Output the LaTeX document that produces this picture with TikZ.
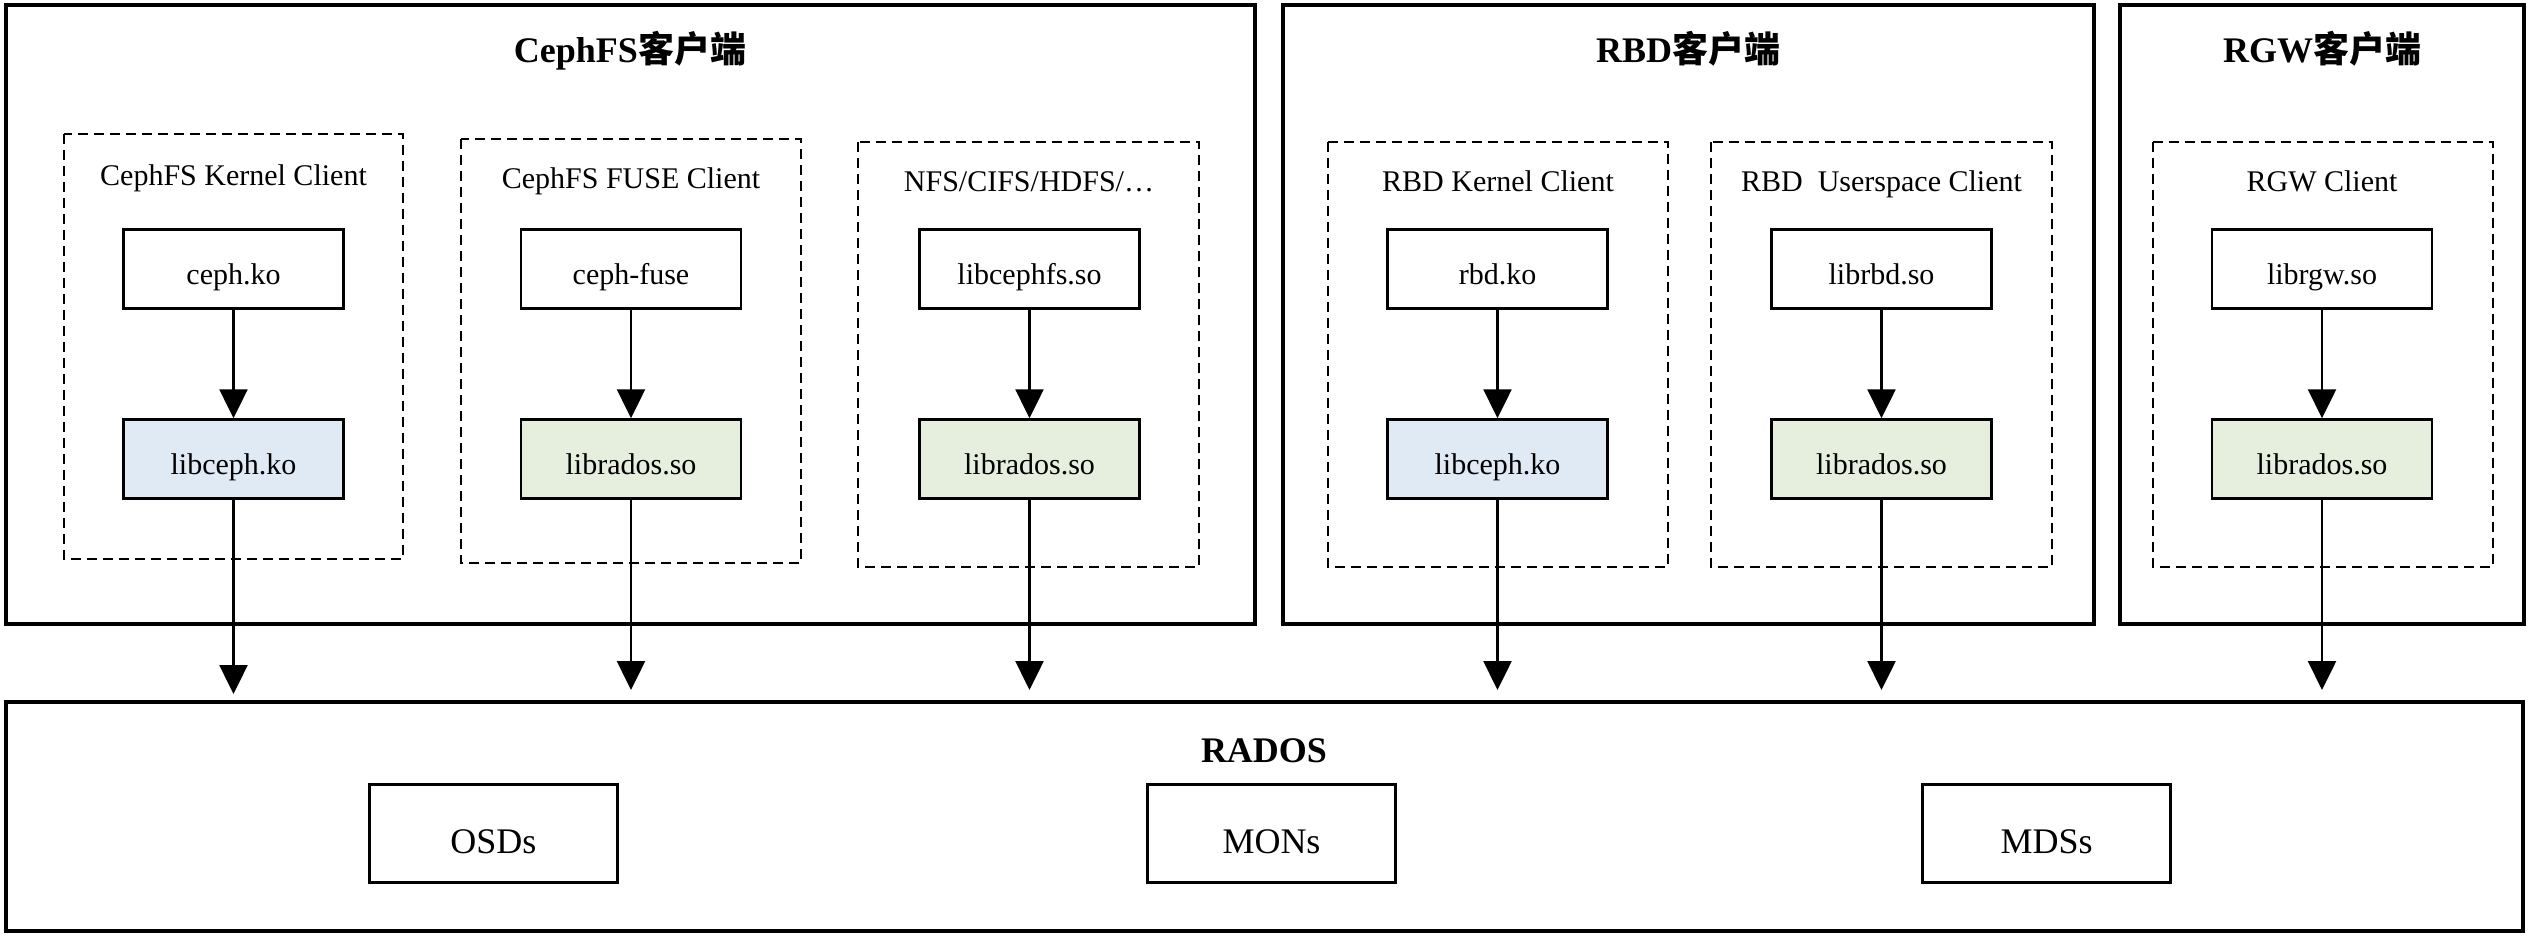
\documentclass[tikz,border=0pt]{standalone}
\usepackage{fontspec}
\setmainfont{Liberation Serif}
\newfontfamily\cjk{Noto Sans CJK SC}
\usetikzlibrary{arrows.meta}
\definecolor{kblue}{HTML}{E0EAF5}
\definecolor{kgreen}{HTML}{E6EFDD}
\begin{document}
\begin{tikzpicture}[x=1pt,y=-1pt,
  outerbox/.style={draw,line width=3.5pt},
  dashbox/.style={draw,dashed,line width=2.5pt,dash pattern=on 10pt off 6pt},
  libbox/.style={draw,line width=2.5pt,minimum width=220pt,minimum height=79pt,inner sep=0pt,text height=37pt,text depth=6pt,font=\fontsize{30}{36}\selectfont},
  radbox/.style={draw,line width=3pt,minimum width=248pt,minimum height=98pt,inner sep=0pt,text height=46pt,text depth=6pt,font=\fontsize{36}{42}\selectfont},
  ttl/.style={font=\fontsize{36}{42}\selectfont\bfseries,inner sep=0pt,anchor=base},
  sttl/.style={font=\fontsize{30}{36}\selectfont,inner sep=0pt,anchor=base},
  arr/.style={line width=2.5pt,-{Triangle[length=29pt,width=28pt]}}
]
\useasboundingbox (0,0) rectangle (2530,936);
\fill[white] (0,0) rectangle (2530,936);
% outer boxes
\draw[outerbox] (6,5) rectangle (1255,624);
\draw[outerbox] (1283,5) rectangle (2094,624);
\draw[outerbox] (2120,5) rectangle (2524,624);
\draw[outerbox] (6,702) rectangle (2523,931);
\node[ttl] (tceph) at (630,63) {CephFS{\cjk\bfseries 客户端}};
\node[ttl] (trbd) at (1688,63) {RBD{\cjk\bfseries 客户端}};
\node[ttl] (trgw) at (2322,63) {RGW{\cjk\bfseries 客户端}};
\node[ttl] (trados) at (1264,762) {RADOS};
% dashed groups
\draw[dashbox] (64,134) rectangle (403,559);
\draw[dashbox] (461,139) rectangle (801,563);
\draw[dashbox] (858,142) rectangle (1199,567);
\draw[dashbox] (1328,142) rectangle (1668,567);
\draw[dashbox] (1711,142) rectangle (2052,567);
\draw[dashbox] (2153,142) rectangle (2493,567);
\node[sttl] (g1) at (233.5,186) {CephFS Kernel Client};
\node[sttl] (g2) at (631,189) {CephFS FUSE Client};
\node[sttl] (g3) at (1029,192) {NFS/CIFS/HDFS/…};
\node[sttl] (g4) at (1498,192) {RBD Kernel Client};
\node[sttl] (g5) at (1881.5,192) {RBD\ \ Userspace Client};
\node[sttl] (g6) at (2322,192) {RGW Client};
% top library boxes
\node[libbox] (a1) at (233.5,269) {ceph.ko};
\node[libbox] (a2) at (631,269) {ceph-fuse};
\node[libbox] (a3) at (1029.5,269) {libcephfs.so};
\node[libbox] (a4) at (1497.5,269) {rbd.ko};
\node[libbox] (a5) at (1881.5,269) {librbd.so};
\node[libbox] (a6) at (2322,269) {librgw.so};
% bottom library boxes
\node[libbox,fill=kblue] (b1) at (233.5,459) {libceph.ko};
\node[libbox,fill=kgreen] (b2) at (631,459) {librados.so};
\node[libbox,fill=kgreen] (b3) at (1029.5,459) {librados.so};
\node[libbox,fill=kblue] (b4) at (1497.5,459) {libceph.ko};
\node[libbox,fill=kgreen] (b5) at (1881.5,459) {librados.so};
\node[libbox,fill=kgreen] (b6) at (2322,459) {librados.so};
% RADOS components
\node[radbox] (osd) at (493.5,833) {OSDs};
\node[radbox] (mon) at (1271.5,833) {MONs};
\node[radbox] (mds) at (2046.5,833) {MDSs};
% arrow end points
\coordinate (e1) at (233.5,694);
\coordinate (e2) at (631,690);
\coordinate (e3) at (1029.5,690);
\coordinate (e4) at (1497.5,690);
\coordinate (e5) at (1881.5,690);
\coordinate (e6) at (2322,690);
\foreach \i in {1,...,6}{
  \draw[arr] (a\i) -- (b\i);
  \draw[arr] (b\i) -- (e\i);
}
\end{tikzpicture}
\end{document}
